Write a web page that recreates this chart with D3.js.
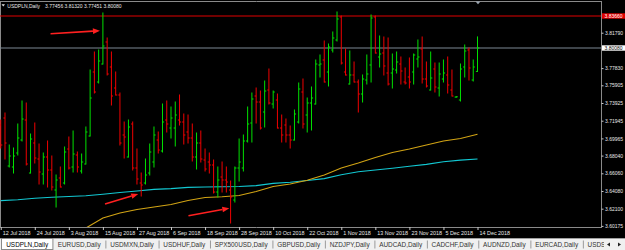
<!DOCTYPE html>
<html>
<head>
<meta charset="utf-8">
<script src="https://cdn.jsdelivr.net/npm/d3@7"></script>
<style>
  body { margin: 0; background: #000; }
  svg { display: block; font-family: "Liberation Sans", Arial, sans-serif; }
</style>
</head>
<body>
<svg id="chart" width="625" height="250"></svg>
<script>
const symbol = "USDPLN";
const period = "Daily";

// daily OHLC, 12 Jul 2018 .. 14 Dec 2018 (one bar per entry)
const openP = [
  3.71464, 3.72247, 3.66876, 3.66764, 3.68330, 3.69785, 3.72023, 3.66092, 3.69449, 3.67659,
  3.65981, 3.67883, 3.66428, 3.64190, 3.65533, 3.64974, 3.68778, 3.66764, 3.68107, 3.66316,
  3.67100, 3.70233, 3.77394, 3.76275, 3.78289, 3.80751, 3.77954, 3.75604, 3.74821, 3.70345,
  3.67883, 3.71575, 3.66652, 3.64974, 3.64974, 3.66092, 3.67323, 3.69785, 3.68554, 3.72023,
  3.71128, 3.71128, 3.72023, 3.71799, 3.70680, 3.70009, 3.67883, 3.69449, 3.67547, 3.67323,
  3.66988, 3.63966, 3.65645, 3.65309, 3.64190, 3.63071, 3.66652, 3.66652, 3.69673, 3.71687,
  3.74709, 3.74037, 3.72918, 3.75380, 3.73813, 3.74261, 3.71128, 3.71464, 3.70345, 3.69785,
  3.71799, 3.75156, 3.72583, 3.73925, 3.73813, 3.78178, 3.78737, 3.77394, 3.79856, 3.80975,
  3.83549, 3.77394, 3.76051, 3.77059, 3.76275, 3.74932, 3.76499, 3.78178, 3.83549, 3.79073,
  3.79520, 3.77282, 3.77282, 3.77618, 3.78289, 3.76275, 3.76835, 3.77394, 3.78849, 3.79968,
  3.76611, 3.75380, 3.77730, 3.75604, 3.76611, 3.77059, 3.75380, 3.74590, 3.74261, 3.77954,
  3.79856, 3.76499, 3.77456
];
const highP = [
  3.72023, 3.72806, 3.69226, 3.68890, 3.71575, 3.74149, 3.73925, 3.70457, 3.71687, 3.69338,
  3.68330, 3.69673, 3.67995, 3.65869, 3.66764, 3.69002, 3.70121, 3.70792, 3.68442, 3.68219,
  3.71240, 3.77618, 3.79632, 3.79856, 3.83996, 3.81199, 3.79632, 3.77394, 3.75044, 3.71799,
  3.72023, 3.71799, 3.68778, 3.66092, 3.67659, 3.69338, 3.71240, 3.70680, 3.73813, 3.74149,
  3.73478, 3.74037, 3.74821, 3.72694, 3.72583, 3.71575, 3.70568, 3.70792, 3.68778, 3.68330,
  3.67547, 3.66764, 3.67323, 3.66764, 3.65197, 3.66764, 3.69897, 3.70345, 3.73478, 3.75044,
  3.75604, 3.75268, 3.76387, 3.77730, 3.75268, 3.74932, 3.72583, 3.72135, 3.71352, 3.73142,
  3.76163, 3.76611, 3.74485, 3.75716, 3.78737, 3.79297, 3.80863, 3.80527, 3.81870, 3.84108,
  3.83661, 3.79968, 3.79744, 3.78513, 3.76499, 3.77059, 3.79297, 3.83773, 3.83661, 3.81423,
  3.81311, 3.81199, 3.79408, 3.79632, 3.79073, 3.77842, 3.78961, 3.79408, 3.80975, 3.81311,
  3.78513, 3.79632, 3.78401, 3.78401, 3.78737, 3.79073, 3.77618, 3.74650, 3.78289, 3.80416,
  3.80080, 3.78737, 3.81320
];
const lowP = [
  3.68890, 3.67659, 3.66764, 3.66092, 3.68107, 3.69673, 3.66988, 3.66092, 3.67211, 3.64862,
  3.64862, 3.64526, 3.64190, 3.62288, 3.64526, 3.64862, 3.66540, 3.66204, 3.66204, 3.66092,
  3.67100, 3.70233, 3.75044, 3.76163, 3.78289, 3.77059, 3.73702, 3.74821, 3.69226, 3.67771,
  3.67883, 3.66428, 3.64862, 3.63519, 3.64862, 3.65869, 3.66764, 3.68330, 3.68442, 3.70680,
  3.70009, 3.69114, 3.71464, 3.69338, 3.69449, 3.67435, 3.66540, 3.67323, 3.66316, 3.66092,
  3.63855, 3.63407, 3.63966, 3.63966, 3.60497, 3.62847, 3.65197, 3.66316, 3.69561, 3.69561,
  3.71687, 3.71016, 3.71240, 3.73813, 3.73366, 3.71128, 3.69561, 3.69561, 3.68890, 3.69785,
  3.71687, 3.71128, 3.70680, 3.70904, 3.73813, 3.76835, 3.76275, 3.75828, 3.79632, 3.80863,
  3.78289, 3.77059, 3.76051, 3.76275, 3.72918, 3.74037, 3.76051, 3.76275, 3.79520, 3.77954,
  3.77059, 3.75940, 3.75604, 3.77282, 3.76051, 3.76051, 3.75604, 3.76051, 3.77954, 3.76163,
  3.75716, 3.75380, 3.75156, 3.74709, 3.76275, 3.75044, 3.74709, 3.74560, 3.74149, 3.76835,
  3.76499, 3.76387, 3.77451
];
const closeP = [
  3.69226, 3.69449, 3.67995, 3.67995, 3.70009, 3.72135, 3.67100, 3.69897, 3.67771, 3.66204,
  3.67883, 3.66428, 3.64526, 3.65309, 3.64526, 3.68442, 3.66652, 3.68219, 3.66764, 3.67323,
  3.70680, 3.74485, 3.75156, 3.78625, 3.80304, 3.77170, 3.74709, 3.74821, 3.69449, 3.70121,
  3.71240, 3.66652, 3.65421, 3.64750, 3.65869, 3.68442, 3.70345, 3.68666, 3.71799, 3.71575,
  3.72247, 3.72583, 3.71799, 3.70345, 3.70009, 3.67883, 3.69449, 3.67659, 3.66540, 3.66988,
  3.63966, 3.65309, 3.65309, 3.65085, 3.63407, 3.66652, 3.67323, 3.69673, 3.71575, 3.74373,
  3.74037, 3.71128, 3.75268, 3.73925, 3.75156, 3.71128, 3.70345, 3.70345, 3.69785, 3.72694,
  3.75492, 3.71575, 3.73925, 3.74485, 3.78289, 3.78289, 3.76275, 3.80192, 3.81199, 3.83325,
  3.78401, 3.77059, 3.77059, 3.76275, 3.74932, 3.76611, 3.77170, 3.83437, 3.79520, 3.79408,
  3.78066, 3.76051, 3.77730, 3.78513, 3.77506, 3.76163, 3.76275, 3.79297, 3.79073, 3.76611,
  3.75828, 3.76723, 3.75716, 3.77170, 3.77282, 3.75940, 3.74709, 3.74620, 3.77730, 3.79744,
  3.77842, 3.77954, 3.80080
];

// moving averages, read every 4th bar
const maSlowIdx = d3.range(0, 113, 4);
const maSlow = [
  3.63004, 3.63094, 3.63261, 3.63373, 3.63463, 3.63541, 3.63720, 3.63910, 3.64078, 3.64257,
  3.64347, 3.64481, 3.64526, 3.64560, 3.64582, 3.64683, 3.64929, 3.65063, 3.65253, 3.65466,
  3.65891, 3.66227, 3.66428, 3.66618, 3.66842, 3.67055, 3.67346, 3.67536, 3.67659
];
const maFastIdx = d3.range(20, 113, 4);
const maFast = [
  3.59938, 3.61057, 3.61617, 3.62008, 3.62288, 3.62568, 3.63015, 3.63351, 3.63440, 3.63575,
  3.64022, 3.64582, 3.64862, 3.65276, 3.65869, 3.66652, 3.67212, 3.67827, 3.68386, 3.68778,
  3.69226, 3.69673, 3.69953, 3.70423
];

const dateLabels = ["12 Jul 2018", "24 Jul 2018", "3 Aug 2018", "15 Aug 2018", "27 Aug 2018",
  "6 Sep 2018", "18 Sep 2018", "28 Sep 2018", "10 Oct 2018", "22 Oct 2018", "1 Nov 2018",
  "13 Nov 2018", "23 Nov 2018", "5 Dec 2018", "14 Dec 2018"];
const dateStep = 8;
// 3.79810 sits under the bid box, so it is left out
const priceTicks = [3.60175, 3.62100, 3.64080, 3.66060, 3.68040, 3.69965, 3.71945, 3.73925,
  3.75905, 3.77830, 3.81790];
const levelPrice = 3.83660;

// hand drawn arrows: [bar, price] -> [bar, price]
const arrows = [
  [11.7, 3.8168, 23.3, 3.8202],
  [24.5, 3.6262, 32.3, 3.6374],
  [44.1, 3.6131, 53.7, 3.6214]
];

const tabs = ["USDPLN,Daily", "EURUSD,Daily", "USDMXN,Daily", "USDHUF,Daily", "SPX500USD,Daily",
  "GBPUSD,Daily", "NZDJPY,Daily", "AUDCAD,Daily", "CADCHF,Daily", "AUDNZD,Daily",
  "EURCAD,Daily", "USDSGD,Daily"];

const W = 625, H = 250;
const plotRight = 601, plotBottom = 227;
const up = "#00e000", down = "#f00000";

const svg = d3.select("#chart");
svg.append("rect").attr("width", W).attr("height", H).attr("fill", "#000");

const x = d3.scaleLinear().domain([0, closeP.length - 1]).range([0.74, 477.5]);
const y = d3.scaleLinear().domain([3.60175, levelPrice]).range([225.9, 16]);

// frame
const frame = svg.append("g").attr("stroke", "#8a8a8a").attr("stroke-width", 1);
frame.append("line").attr("x1", 0).attr("x2", plotRight).attr("y1", 1.5).attr("y2", 1.5);
frame.append("line").attr("x1", 0.5).attr("x2", 0.5).attr("y1", 1).attr("y2", plotBottom);
frame.append("line").attr("x1", 0).attr("x2", plotRight).attr("y1", plotBottom + 0.5).attr("y2", plotBottom + 0.5);
frame.append("line").attr("x1", plotRight + 0.5).attr("x2", plotRight + 0.5).attr("y1", 1).attr("y2", plotBottom + 1);

svg.append("clipPath").attr("id", "plotClip")
  .append("rect").attr("x", 0).attr("y", 2).attr("width", plotRight).attr("height", plotBottom - 2);

const g = svg.append("g").attr("clip-path", "url(#plotClip)");

// level line and bid line
g.append("line").attr("x1", 0).attr("x2", plotRight)
  .attr("y1", y(levelPrice)).attr("y2", y(levelPrice))
  .attr("stroke", "#e00000").attr("stroke-width", 1.1);
const lastClose = closeP[closeP.length - 1];
g.append("line").attr("x1", 0).attr("x2", plotRight)
  .attr("y1", y(lastClose)).attr("y2", y(lastClose))
  .attr("stroke", "#7d8794").attr("stroke-width", 1.1);

// moving averages
const line = d3.line().x(d => x(d[0])).y(d => y(d[1]));
g.append("path").datum(maSlowIdx.map((i, k) => [i, maSlow[k]]))
  .attr("d", line).attr("fill", "none").attr("stroke", "#12c8d2").attr("stroke-width", 1.1);
g.append("path").datum(maFastIdx.map((i, k) => [i, maFast[k]]))
  .attr("d", line).attr("fill", "none").attr("stroke", "#d2a414").attr("stroke-width", 1.1);

// OHLC bars
const bars = g.selectAll("g.bar").data(closeP.map((c, i) => i)).enter()
  .append("g").attr("class", "bar")
  .attr("stroke", i => closeP[i] >= openP[i] ? up : down)
  .attr("stroke-width", 1);
bars.append("line")
  .attr("x1", i => x(i)).attr("x2", i => x(i))
  .attr("y1", i => y(highP[i]) - 0.5).attr("y2", i => y(lowP[i]) + 0.5);
bars.append("line")
  .attr("x1", i => x(i) - 1.6).attr("x2", i => x(i))
  .attr("y1", i => y(openP[i])).attr("y2", i => y(openP[i]));
bars.append("line")
  .attr("x1", i => x(i)).attr("x2", i => x(i) + 1.6)
  .attr("y1", i => y(closeP[i])).attr("y2", i => y(closeP[i]));

// arrows
arrows.forEach(a => {
  const x0 = x(a[0]), y0 = y(a[1]), x1 = x(a[2]), y1 = y(a[3]);
  const ang = Math.atan2(y1 - y0, x1 - x0);
  const hl = 7, hw = 2.8;
  const bx = x1 - hl * Math.cos(ang), by = y1 - hl * Math.sin(ang);
  g.append("line").attr("x1", x0).attr("y1", y0).attr("x2", bx).attr("y2", by)
    .attr("stroke", "#ff2020").attr("stroke-width", 1.6);
  g.append("path")
    .attr("d", `M${x1},${y1}L${bx - hw * Math.sin(ang)},${by + hw * Math.cos(ang)}L${bx + hw * Math.sin(ang)},${by - hw * Math.cos(ang)}Z`)
    .attr("fill", "#ff2020");
});

// price axis
const yAxis = d3.axisRight(y).tickValues(priceTicks).tickSize(2).tickPadding(1.5)
  .tickFormat(d3.format(".5f"));
const ya = svg.append("g").attr("transform", `translate(${plotRight + 0.5},0)`).call(yAxis);
ya.select(".domain").remove();
ya.selectAll("line").attr("stroke", "#c8c8c8");
ya.selectAll("text").attr("fill", "#e8e8e8").attr("font-size", 5).attr("font-family", "Liberation Sans, Arial, sans-serif");

function priceBox(p, bg, fg) {
  svg.append("rect").attr("x", plotRight + 1).attr("y", y(p) - 2.7).attr("width", W - plotRight - 1).attr("height", 5.4).attr("fill", bg);
  svg.append("text").attr("x", plotRight + 3.5).attr("y", y(p)).attr("dy", "0.35em")
    .attr("font-size", 5).attr("fill", fg).text(d3.format(".5f")(p));
}
priceBox(levelPrice, "#e00000", "#ffffff");
priceBox(lastClose, "#ffffff", "#000000");

// date axis
const xAxis = d3.axisBottom(x).tickValues(dateLabels.map((d, k) => k * dateStep)).tickSize(3).tickPadding(1.5)
  .tickFormat((d, k) => dateLabels[k]);
const xa = svg.append("g").attr("transform", `translate(0,${plotBottom})`).call(xAxis);
xa.select(".domain").remove();
xa.selectAll("line").attr("stroke", "#c8c8c8");
xa.selectAll("text").attr("fill", "#e8e8e8").attr("font-size", 5.4).attr("text-anchor", "start")
  .attr("dx", 1.5).attr("font-family", "Liberation Sans, Arial, sans-serif");

// title
svg.append("path").attr("d", "M1.5,4.2L5,4.2L3.25,6.6Z").attr("fill", "#e0e0e0");
const title = svg.append("text").attr("x", 7.3).attr("y", 7.6).attr("font-size", 5).attr("fill", "#e8e8e8");
title.append("tspan").text(`${symbol},${period}`);
const last = closeP.length - 1;
title.append("tspan").attr("dx", 5)
  .text([openP[last], highP[last], lowP[last], closeP[last]].map(d3.format(".5f")).join(" "));

// chart shift marker
svg.append("path").attr("d", `M${x(last) + 0.5},4.2L${x(last) - 2},1.5L${x(last) + 3},1.5Z`).attr("fill", "#9aa4b0");

// tab bar
const tb = svg.append("g").attr("font-size", 6.4);
tb.append("rect").attr("x", 0).attr("y", 238).attr("width", W).attr("height", 12).attr("fill", "#f0f0f0");
tb.append("line").attr("x1", 0).attr("x2", W).attr("y1", 238.5).attr("y2", 238.5).attr("stroke", "#a0a0a0");
let tx = 1.5;
tabs.forEach((t, k) => {
  const txt = tb.append("text").attr("y", 247.2).attr("fill", k === 0 ? "#000" : "#333").text(t);
  const tw = txt.node().getComputedTextLength();
  const w = tw + 9.5;
  txt.attr("x", tx + 4.75);
  if (k === 0) {
    tb.insert("rect", "text").attr("x", tx).attr("y", 238.5).attr("width", w).attr("height", 11)
      .attr("fill", "#fff").attr("stroke", "#8a8a8a");
  } else {
    tb.append("line").attr("x1", tx + w + 0.5).attr("x2", tx + w + 0.5).attr("y1", 240.5).attr("y2", 248.5)
      .attr("stroke", "#9a9a9a");
  }
  tx += w;
});
tb.append("rect").attr("x", 604).attr("y", 239).attr("width", 21).attr("height", 11).attr("fill", "#f0f0f0");
tb.append("path").attr("d", "M607,244.5L610,242.5L610,246.5Z").attr("fill", "#222");
tb.append("path").attr("d", "M621,244.5L618,242.5L618,246.5Z").attr("fill", "#222");
</script>
</body>
</html>
